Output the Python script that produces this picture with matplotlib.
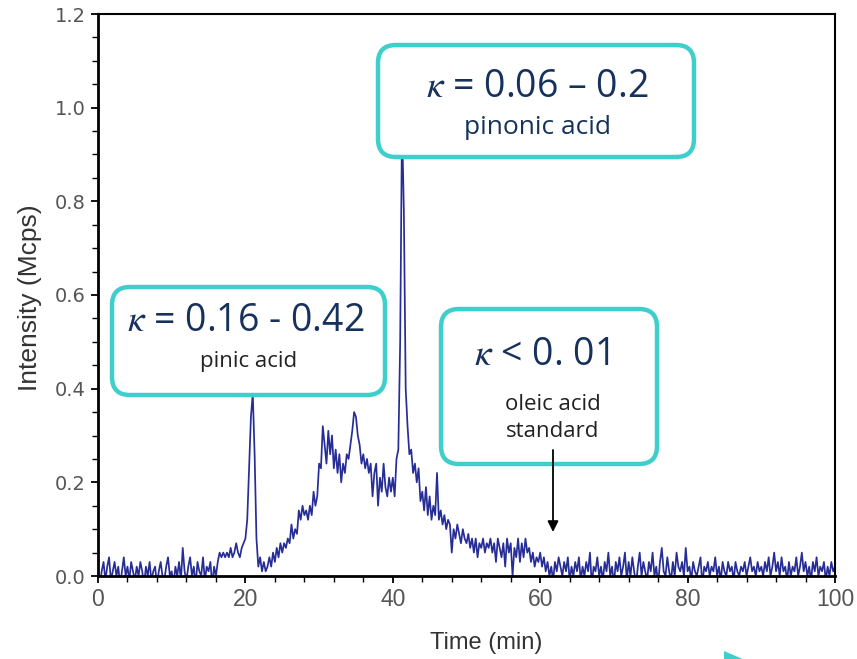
import numpy as np
import matplotlib
matplotlib.use("Agg")
import matplotlib.pyplot as plt
from matplotlib.patches import FancyBboxPatch, Polygon, FancyArrowPatch
from matplotlib.transforms import IdentityTransform
from matplotlib.ticker import MultipleLocator

plt.rcParams['mathtext.fontset'] = 'stix'

# ---- data (0.25 min sampling) ----
time_step = 0.25
seg_00_05 = [0.00, -0.02, 0.01, 0.03, -0.01, 0.02, 0.04, -0.01, 0.01, 0.03, 0.00, 0.02, -0.02, 0.01, 0.04, 0.00, 0.02, -0.01, 0.03, 0.01]
seg_05_10 = [-0.01, 0.02, 0.00, 0.03, 0.01, -0.02, 0.02, 0.00, 0.03, -0.01, 0.01, 0.02, -0.02, 0.01, 0.03, 0.00, -0.01, 0.02, 0.04, 0.00]
seg_10_15 = [0.01, -0.02, 0.02, 0.00, 0.03, -0.01, 0.06, 0.01, -0.01, 0.02, 0.04, 0.00, 0.02, -0.02, 0.03, 0.01, 0.00, 0.04, -0.01, 0.02]
seg_15_20 = [0.01, 0.03, -0.02, 0.02, 0.00, 0.03, 0.05, 0.04, 0.05, 0.04, 0.05, 0.04, 0.06, 0.04, 0.05, 0.07, 0.05, 0.04, 0.06, 0.07]
seg_20_25 = [0.08, 0.12, 0.23, 0.34, 0.39, 0.26, 0.08, 0.02, 0.04, 0.01, 0.03, 0.01, 0.02, 0.04, 0.02, 0.05, 0.03, 0.06, 0.04, 0.07]
seg_25_30 = [0.05, 0.07, 0.06, 0.08, 0.07, 0.11, 0.08, 0.10, 0.09, 0.14, 0.12, 0.15, 0.13, 0.14, 0.12, 0.15, 0.13, 0.18, 0.15, 0.17]
seg_30_35 = [0.24, 0.23, 0.32, 0.28, 0.24, 0.31, 0.26, 0.30, 0.23, 0.27, 0.22, 0.26, 0.20, 0.24, 0.22, 0.26, 0.25, 0.28, 0.31, 0.35]
seg_35_40 = [0.34, 0.30, 0.28, 0.24, 0.26, 0.23, 0.25, 0.22, 0.24, 0.17, 0.22, 0.24, 0.15, 0.21, 0.18, 0.24, 0.19, 0.17, 0.21, 0.18]
seg_40_45 = [0.21, 0.17, 0.25, 0.27, 0.50, 0.97, 0.78, 0.40, 0.32, 0.26, 0.27, 0.22, 0.24, 0.20, 0.23, 0.16, 0.18, 0.14, 0.19, 0.13]
seg_45_50 = [0.17, 0.12, 0.15, 0.13, 0.22, 0.12, 0.14, 0.11, 0.13, 0.10, 0.12, 0.11, 0.05, 0.10, 0.08, 0.11, 0.09, 0.07, 0.10, 0.08]
seg_50_55 = [0.07, 0.09, 0.06, 0.08, 0.05, 0.08, 0.04, 0.07, 0.06, 0.08, 0.05, 0.07, 0.06, 0.08, 0.05, 0.07, 0.03, 0.08, 0.06, 0.04]
seg_55_60 = [0.07, 0.02, 0.08, 0.05, 0.07, 0.00, 0.06, 0.04, 0.08, 0.03, 0.07, 0.04, 0.08, 0.05, 0.06, 0.03, 0.05, 0.02, 0.04, 0.03]
seg_60_65 = [0.05, 0.02, 0.04, 0.01, 0.03, 0.00, 0.02, -0.01, 0.03, 0.01, 0.04, 0.02, 0.00, 0.03, 0.01, 0.04, -0.01, 0.02, 0.00, 0.03]
seg_65_70 = [0.01, 0.04, -0.01, 0.02, 0.00, 0.03, 0.01, 0.05, -0.02, 0.02, 0.01, 0.04, 0.00, 0.02, -0.01, 0.03, 0.01, 0.05, 0.00, 0.02]
seg_70_75 = [-0.02, 0.03, 0.01, 0.04, 0.00, 0.02, 0.05, -0.01, 0.03, 0.00, 0.04, 0.01, -0.02, 0.02, 0.05, 0.00, 0.03, 0.01, -0.01, 0.03]
seg_75_80 = [0.01, 0.05, 0.00, 0.02, -0.02, 0.03, 0.06, 0.01, 0.00, 0.04, 0.01, -0.01, 0.03, 0.00, 0.05, 0.02, 0.01, 0.03, 0.00, 0.06]
seg_80_85 = [0.01, 0.02, -0.01, 0.03, 0.01, 0.00, 0.02, 0.04, -0.02, 0.02, 0.01, 0.03, 0.00, 0.02, 0.01, 0.04, 0.00, 0.02, -0.01, 0.03]
seg_85_90 = [0.01, 0.00, 0.03, 0.01, 0.02, -0.01, 0.03, 0.01, 0.00, 0.02, 0.01, 0.03, 0.00, 0.02, 0.04, 0.01, 0.02, 0.00, 0.03, 0.01]
seg_90_95 = [0.02, 0.00, 0.03, 0.01, 0.04, 0.00, 0.02, 0.05, 0.01, 0.03, 0.00, 0.04, 0.01, 0.02, -0.01, 0.03, 0.00, 0.02, 0.01, 0.04]
seg_95_100 = [0.00, 0.02, 0.05, 0.01, 0.03, 0.00, 0.02, -0.01, 0.03, 0.01, 0.04, 0.00, 0.02, 0.01, 0.03, -0.01, 0.02, 0.00, 0.03, 0.01, 0.02]

intensity = np.array(seg_00_05 + seg_05_10 + seg_10_15 + seg_15_20 + seg_20_25 + seg_25_30 +
                     seg_30_35 + seg_35_40 + seg_40_45 + seg_45_50 + seg_50_55 + seg_55_60 +
                     seg_60_65 + seg_65_70 + seg_70_75 + seg_75_80 + seg_80_85 + seg_85_90 +
                     seg_90_95 + seg_95_100)
time_min = np.arange(len(intensity)) * time_step

x_ticks = [0, 20, 40, 60, 80, 100]
y_ticks = [0.0, 0.2, 0.4, 0.6, 0.8, 1.0, 1.2]
x_label = "Time (min)"
y_label = "Intensity (Mcps)"
box_texts = [
    (r"$\kappa$ = 0.16 - 0.42", "pinic acid"),
    (r"$\kappa$ = 0.06 – 0.2", "pinonic acid"),
    (r"$\kappa$ < 0. 01", "oleic acid\nstandard"),
]

W, H = 857, 659
fig = plt.figure(figsize=(W / 100, H / 100), dpi=100)
ax = fig.add_axes([98 / W, (H - 576) / H, (835 - 98) / W, (576 - 14) / H])

ax.plot(time_min, intensity, color='#262d96', lw=1.25)
ax.set_xlim(0, 100)
ax.set_ylim(0, 1.2)
ax.set_xticks(x_ticks)
ax.set_xticklabels([str(v) for v in x_ticks])
ax.set_yticks(y_ticks)
ax.set_yticklabels([f"{v:.1f}" for v in y_ticks])
ax.xaxis.set_minor_locator(MultipleLocator(4))
ax.yaxis.set_minor_locator(MultipleLocator(0.05))
ax.tick_params(which='major', direction='out', length=5, width=1.3, colors='black',
               labelcolor='#555555')
ax.tick_params(which='minor', direction='out', length=4, width=1.0, colors='black')
ax.tick_params(axis='x', which='major', labelsize=16.5, pad=4)
ax.tick_params(axis='y', which='major', labelsize=14, pad=4)
for lab in ax.get_xticklabels():
    lab.set_family(['Liberation Sans', 'DejaVu Sans'])
for lab in ax.get_yticklabels():
    lab.set_family(['DejaVu Sans'])
for s in ax.spines.values():
    s.set_linewidth(1.5)
ax.spines['left'].set_linewidth(2)
ax.spines['bottom'].set_linewidth(2)

fig.text(30 / W, 1 - 298 / H, y_label, rotation=90, ha='center', va='center',
         fontsize=19, color='#333333', family=['Liberation Sans', 'DejaVu Sans'])
fig.text(486 / W, 1 - 643 / H, x_label, ha='center', va='center',
         fontsize=17, color='#333333', family=['Liberation Sans', 'DejaVu Sans'])

teal = '#3ecfcc'
navy = '#16325c'
boxes = [(112, 287, 385, 395), (378, 45, 694, 157), (441, 309, 657, 464)]
for (x0, y0, x1, y1) in boxes:
    p = FancyBboxPatch((x0, H - y1), x1 - x0, y1 - y0,
                       boxstyle="round,pad=0,rounding_size=18",
                       transform=IdentityTransform(), facecolor='white',
                       edgecolor=teal, lw=3.2, zorder=5)
    fig.add_artist(p)

fam = ['Open Sans', 'DejaVu Sans']
fig.text(246 / W, 1 - 321 / H, box_texts[0][0], ha='center', va='center', fontsize=27,
         color=navy, family=fam, zorder=6)
fig.text(249 / W, 1 - 362 / H, box_texts[0][1], ha='center', va='center', fontsize=16,
         color='#222222', family=fam, zorder=6)
fig.text(537 / W, 1 - 87 / H, box_texts[1][0], ha='center', va='center', fontsize=27,
         color=navy, family=fam, zorder=6)
fig.text(537 / W, 1 - 127 / H, box_texts[1][1], ha='center', va='center', fontsize=19,
         color=navy, family=fam, zorder=6)
fig.text(542 / W, 1 - 355 / H, box_texts[2][0], ha='center', va='center', fontsize=27,
         color=navy, family=fam, zorder=6)
fig.text(553 / W, 1 - 418 / H, box_texts[2][1], ha='center', va='center', fontsize=16,
         color='#222222', family=fam, zorder=6, linespacing=1.35)

arrow = FancyArrowPatch((553, H - 450), (553, H - 532), transform=IdentityTransform(),
                        arrowstyle='-|>', color='black', lw=1.3, mutation_scale=16,
                        shrinkA=0, shrinkB=0, zorder=7)
fig.add_artist(arrow)

tri = Polygon([(724, H - 651), (752, -4), (724, -4)], closed=True,
              transform=IdentityTransform(), facecolor=teal, edgecolor='none')
fig.add_artist(tri)

fig.savefig("out.png", dpi=100)
